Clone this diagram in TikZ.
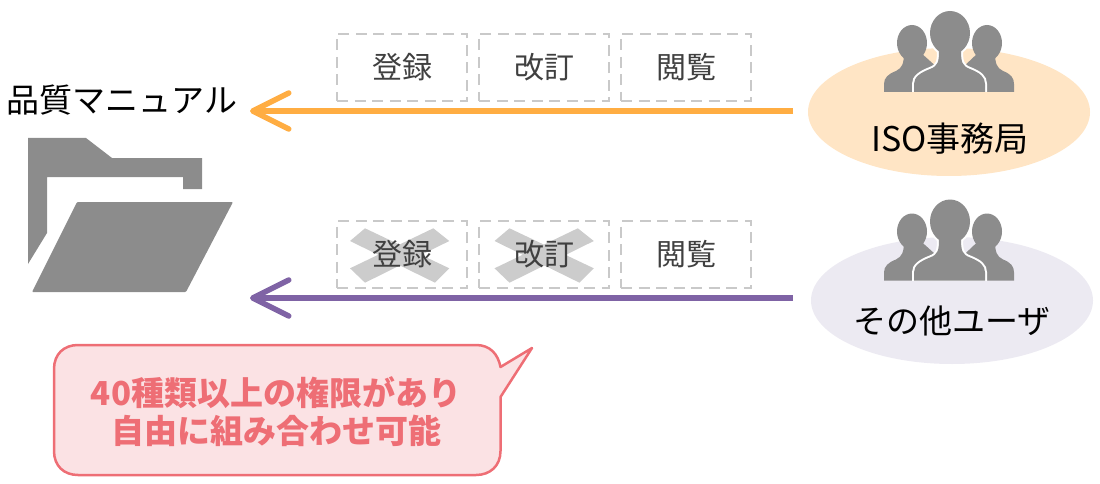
\documentclass[tikz,border=0pt]{standalone}
\usepackage{fontspec}
\setmainfont{Noto Sans CJK JP}
\usetikzlibrary{shapes.geometric,arrows.meta}

\definecolor{iconGray}{HTML}{8C8C8C}
\definecolor{crossGray}{HTML}{CCCCCC}
\definecolor{boxGray}{HTML}{C9C9C9}
\definecolor{isoOrange}{HTML}{FFAD42}
\definecolor{isoFill}{HTML}{FFE5C5}
\definecolor{userPurple}{HTML}{7F63A5}
\definecolor{userFill}{HTML}{ECEAF2}
\definecolor{noteRed}{HTML}{EE6E75}
\definecolor{noteFill}{HTML}{FBE2E4}

\newcommand{\frontbody}{(-11,50) .. controls (-11,62) and (-12,66) .. (-20,69) .. controls (-30,73) and (-36,77) .. (-36,84) -- (-36,92) -- (35,92) -- (35,84) .. controls (35,77) and (30,73) .. (20,69) .. controls (12,66) and (11,62) .. (11,50) -- cycle}

\tikzset{
  permbox/.style={draw=boxGray, line width=2.2pt, dash pattern=on 11pt off 6.5pt, minimum width=130pt, minimum height=67pt, inner sep=0pt, text=black!75, font=\fontsize{30}{30}\selectfont},
  usercloud/.style={ellipse, minimum width=282pt, minimum height=128pt, inner sep=0pt},
  flowarrow/.style={line width=5.5pt, -{Straight Barb[length=36pt, width=36pt, round]}},
  biglabel/.style={inner sep=0pt, font=\fontsize{33}{33}\selectfont},
  people/.pic={
    % side figures
    \fill[iconGray] (-38,43) ellipse (15 and 18);
    \fill[iconGray] (-46,52) .. controls (-46,64) and (-48,68) .. (-54,71) .. controls (-62,74) and (-66,78) .. (-66,84) -- (-66,92) -- (-10,92) -- (-10,70) -- (-30,52) -- cycle;
    \fill[iconGray] (37,43) ellipse (15 and 18);
    \fill[iconGray] (45,52) .. controls (45,64) and (47,68) .. (53,71) .. controls (61,74) and (64,78) .. (64,84) -- (64,92) -- (10,92) -- (10,70) -- (29,52) -- cycle;
    % front figure
    \begin{scope}
      \clip (-60,0) rectangle (60,92);
      \draw[white, line width=4pt] (0,33) ellipse (20 and 22);
      \draw[white, line width=4pt] \frontbody;
    \end{scope}
    \fill[iconGray] (0,33) ellipse (20 and 22);
    \fill[iconGray] \frontbody;
  }
}

\begin{document}
\begin{tikzpicture}[x=1pt,y=-1pt]
\useasboundingbox (0,0) rectangle (1100,484);

% Folder
\node[biglabel] (manualLabel) at (122,100) {品質マニュアル};
\fill[iconGray] (28,138) -- (86,138) -- (112,158) -- (202,158) -- (202,189) -- (183,189) -- (183,177) -- (47,177) -- (47,233) -- (28,264) -- cycle;
\fill[iconGray, rounded corners=1pt] (77,202) -- (233,202) -- (186,292) -- (32,292) -- cycle;

% Users
\node[usercloud, fill=isoFill] (isoCloud) at (949,112) {};
\node[usercloud, fill=userFill, minimum height=127pt] (userCloud) at (952,300.5) {};
\pic (isoPeople) at (950,0) {people};
\pic (userPeople) at (950,188.5) {people};
\node[biglabel, font=\fontsize{34}{34}\selectfont] (isoLabel) at (950,139) {ISO事務局};
\node[biglabel] (userLabel) at (952,321) {その他ユーザ};

% Arrows
\coordinate (isoStart) at (793,111);
\coordinate (isoEnd) at (250,111);
\coordinate (userStart) at (793,298);
\coordinate (userEnd) at (250,298);
\draw[flowarrow, isoOrange] (isoStart) -- (isoEnd);
\draw[flowarrow, userPurple] (userStart) -- (userEnd);

% Crosses under the texts
\foreach \dx in {0,144.5} {
  \fill[crossGray, xshift=\dx] (350,241) -- (365,228.3) -- (449.3,268.3) -- (435,282.7) -- cycle;
  \fill[crossGray, xshift=\dx] (433.3,228.3) -- (449.3,241) -- (365,282.7) -- (350,268.3) -- cycle;
}

% Permissions
\node[permbox] (isoAdd) at (402,67.5) {登録};
\node[permbox] (isoRev) at (544,67.5) {改訂};
\node[permbox] (isoView) at (686,67.5) {閲覧};
\node[permbox] (userAdd) at (402,254.5) {登録};
\node[permbox] (userRev) at (544,254.5) {改訂};
\node[permbox] (userView) at (686,254.5) {閲覧};

% Callout
\draw[noteRed, fill=noteFill, line width=2.5pt, line join=round] (78,345) -- (476,345) .. controls (490,345) and (498,354) .. (500.5,367) -- (532,348) -- (500.5,397) -- (500.5,451) .. controls (500.5,466) and (490,475) .. (476,475) -- (78,475) .. controls (64,475) and (54,466) .. (54,451) -- (54,369) .. controls (54,354) and (64,345) .. (78,345) -- cycle;
\node[align=center, inner sep=0pt, text=noteRed, font=\fontsize{33}{38}\selectfont\bfseries] (noteText) at (276,412) {40種類以上の権限があり\\自由に組み合わせ可能};
\end{tikzpicture}
\end{document}
